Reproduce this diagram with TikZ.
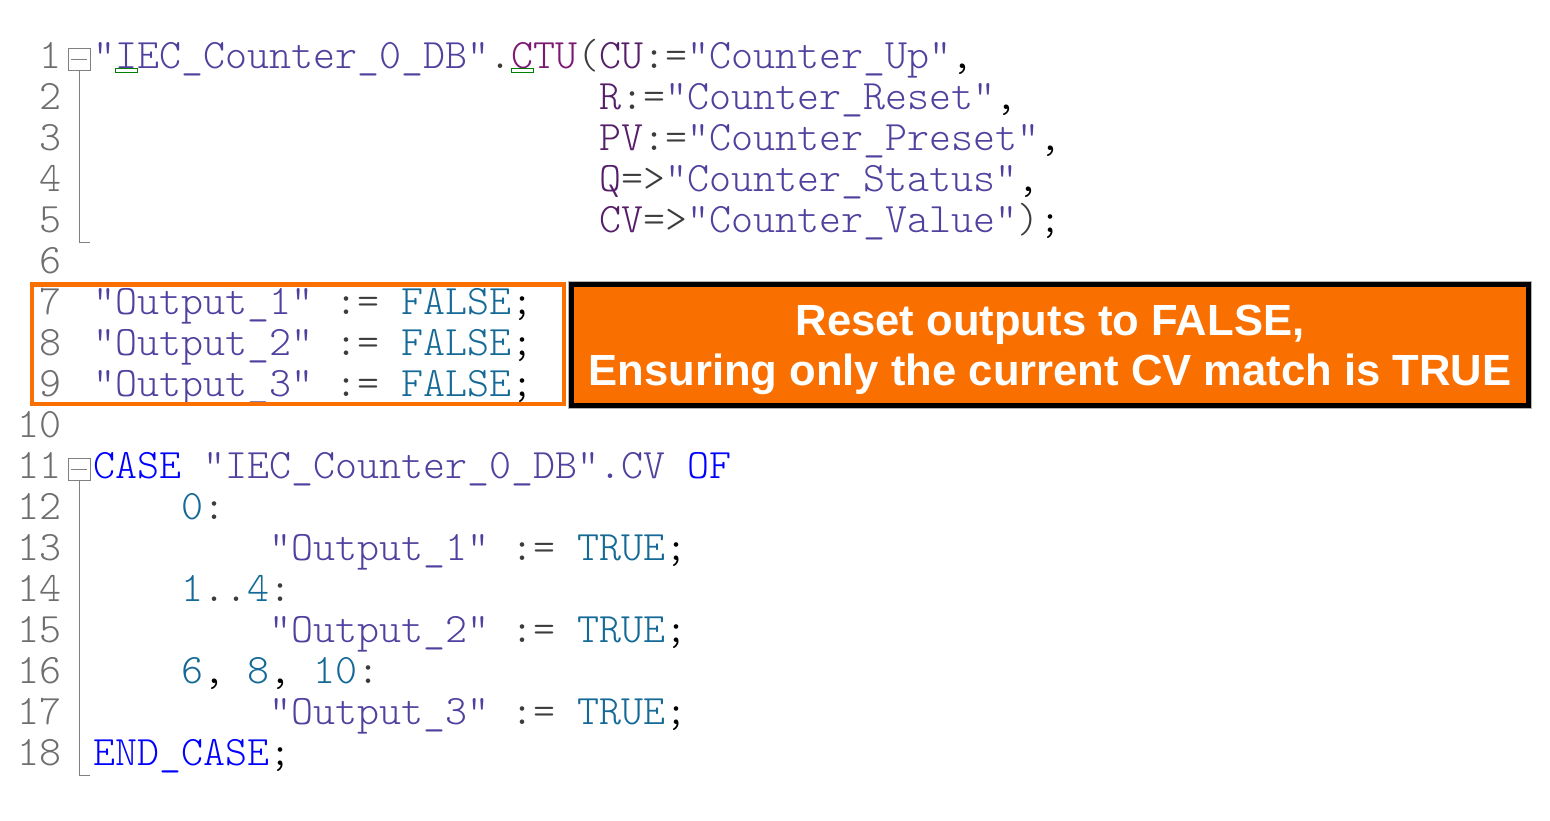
\documentclass[tikz,border=0pt]{standalone}
\usepackage{fontspec}
\newfontfamily\codefont{lmmonolt10-regular.otf}
\newfontfamily\notefont{Liberation Sans}
\definecolor{lnumgray}{RGB}{110,110,110}
\definecolor{foldgray}{RGB}{128,128,128}
\definecolor{tagblue}{RGB}{82,64,158}
\definecolor{fbpurple}{RGB}{125,25,115}
\definecolor{parpurple}{RGB}{85,30,105}
\definecolor{constblue}{RGB}{20,105,150}
\definecolor{kwblue}{RGB}{0,0,255}
\definecolor{opgray}{RGB}{60,60,60}
\definecolor{plcorange}{RGB}{249,112,0}
\newcommand{\sclTag}[1]{\textcolor{tagblue}{#1}}
\newcommand{\sclPar}[1]{\textcolor{parpurple}{#1}}
\newcommand{\sclConst}[1]{\textcolor{constblue}{#1}}
\newcommand{\sclKw}[1]{\textcolor{kwblue}{#1}}
\newcommand{\sclOp}[1]{\textcolor{opgray}{#1}}
\begin{document}
\begin{tikzpicture}[x=0.5pt, y=-0.5pt,
    code/.style={anchor=base west, inner sep=0pt, font=\codefont\fontsize{20.95pt}{22pt}\selectfont},
    lnum/.style={code, anchor=base east, text=lnumgray},
    foldbox/.style={draw=foldgray, line width=0.5pt, minimum size=11pt, inner sep=0pt},
    foldline/.style={draw=foldgray, line width=0.5pt},
    squiggle/.style={draw=green!50!black, line width=0.5pt},
    hilite/.style={draw=plcorange, line width=2.3pt},
    notebox/.style={fill=plcorange, draw=black, line width=2.6pt, minimum width=478.5pt,
        minimum height=60.5pt, align=center, text=white, text depth=0pt,
        font=\notefont\bfseries\fontsize{21.8pt}{25pt}\selectfont}]
    \useasboundingbox (0,0) rectangle (1550,820);
    % line numbers
    \foreach \n in {1,...,18}
        \node[lnum] (n\n) at (62, {68+41*(\n-1)}) {\n};
    % CTU call
    \node[code] (c1) at (93,68) {\sclTag{"IEC\_Counter\_0\_DB"}\sclOp{.}\textcolor{fbpurple}{CTU}\sclOp{(}\sclPar{CU}\sclOp{:=}\sclTag{"Counter\_Up"},};
    \node[code] (c2) at (599,109) {\sclPar{R}\sclOp{:=}\sclTag{"Counter\_Reset"},};
    \node[code] (c3) at (599,150) {\sclPar{PV}\sclOp{:=}\sclTag{"Counter\_Preset"},};
    \node[code] (c4) at (599,191) {\sclPar{Q}\sclOp{=>}\sclTag{"Counter\_Status"},};
    \node[code] (c5) at (599,232) {\sclPar{CV}\sclOp{=>}\sclTag{"Counter\_Value"}\sclOp{)};};
    \draw[squiggle] (115,68.5) rectangle (137,72);
    \draw[squiggle] (511,68.5) rectangle (533,72);
    % reset block
    \foreach \k/\y in {1/314, 2/355, 3/396}
        \node[code] (set\k) at (93,\y) {\sclTag{"Output\_\k"} \sclOp{:=} \sclConst{FALSE};};
    \draw[hilite] (32,284.5) rectangle (564,404);
    % CASE block
    \node[code] (c11) at (93,478) {\sclKw{CASE} \sclTag{"IEC\_Counter\_0\_DB".CV} \sclKw{OF}};
    \node[code] (c12) at (181,519) {\sclConst{0}\sclOp{:}};
    \node[code] (c14) at (181,601) {\sclConst{1}\sclOp{..}\sclConst{4}\sclOp{:}};
    \node[code] (c16) at (181,683) {\sclConst{6}, \sclConst{8}, \sclConst{10}\sclOp{:}};
    \foreach \k/\y in {1/560, 2/642, 3/724}
        \node[code] (case\k) at (269,\y) {\sclTag{"Output\_\k"} \sclOp{:=} \sclConst{TRUE};};
    \node[code] (c18) at (93,765) {\sclKw{END\_CASE};};
    % fold markers
    \node[foldbox] (fold1) at (79,59) {};
    \node[foldbox] (fold2) at (79,469) {};
    \coordinate (fold1end) at (90,242);
    \coordinate (fold2end) at (90,775);
    \foreach \f in {1,2} {
        \draw[foldline] ([xshift=-4pt]fold\f.center) -- ([xshift=4pt]fold\f.center);
        \draw[foldline] (fold\f.south) |- (fold\f end);
    }
    % note
    \node[notebox] (note) at (1050,345) {Reset outputs to FALSE,\\Ensuring only the current CV match is TRUE};
    \draw[draw=gray!60, line width=0.5pt] ([shift={(-0.3pt,0.3pt)}]note.north west) rectangle ([shift={(0.3pt,-0.3pt)}]note.south east);
\end{tikzpicture}
\end{document}
